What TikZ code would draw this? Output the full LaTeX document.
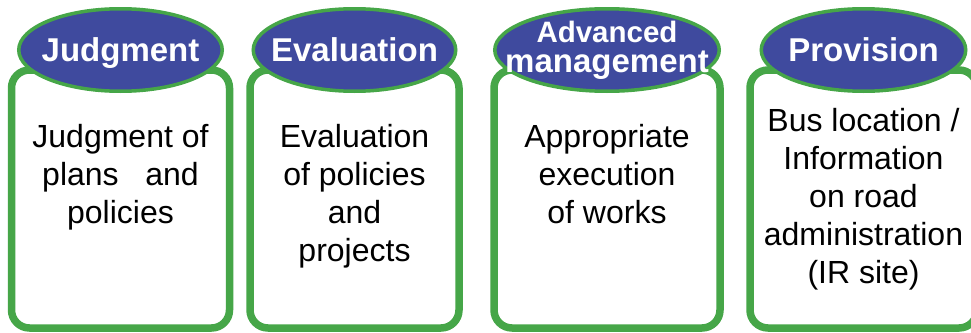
\documentclass[tikz,border=0pt]{standalone}
\usepackage{fontspec}
\setmainfont{Liberation Sans}
\usetikzlibrary{shapes.geometric,positioning}
\definecolor{cFrame}{HTML}{46A648}
\definecolor{cHead}{HTML}{3F4A9E}
\tikzset{
  stagebox/.style={draw=cFrame,fill=white,line width=7.5pt,rounded corners=18pt,
      inner sep=0pt,minimum height=258pt},
  stagehead/.style={ellipse,draw=cFrame,fill=cHead,line width=3.5pt,inner sep=0pt,
      minimum height=82.5pt},
  stagetitle/.style={text=white,align=center,inner sep=0pt,
      font=\bfseries\fontsize{33}{30}\selectfont},
  stagetext/.style={font=\fontsize{32}{38}\selectfont,align=center,inner sep=0pt,
      text=black},
}
% [title options]{name}{left}{right}{head width}{title}{text top}{text}
\newcommand{\stage}[8][]{%
  \node[stagebox,minimum width={(#4-#3)*1pt}] (#2box) at ({(#3+#4)/2},199) {};
  \node[stagehead,minimum width=#5pt] (#2head) at ({(#3+#4)/2},50) {};
  \node[stagetitle,#1] (#2title) at (#2head) {#6};
  \node[stagetext,anchor=north] (#2text) at ({(#3+#4)/2},#7) {#8};}

\begin{document}
\begin{tikzpicture}[x=1pt,y=-1pt]
  \useasboundingbox (0,0) rectangle (971,332);
  \fill[white] (0,0) rectangle (971,332);
  \clip (0,0) rectangle (971,332);

  \stage[text depth=0pt]{jdg}{11.5}{229.5}{203.5}{Judgment}{124}
    {Judgment of\\plans\ \ \ and\\policies}
  \stage{evl}{250}{459}{202.5}{Evaluation}{124}
    {Evaluation\\of policies\\and\\projects}
  \stage{adv}{494}{720}{224.5}{\fontsize{29.5}{27}\selectfont Advanced\\management}{124.5}
    {Appropriate\\execution\\of works}
  \stage{prv}{750}{977}{204.5}{Provision}{108}
    {Bus location /\\Information\\on road\\administration\\(IR site)}
\end{tikzpicture}
\end{document}
